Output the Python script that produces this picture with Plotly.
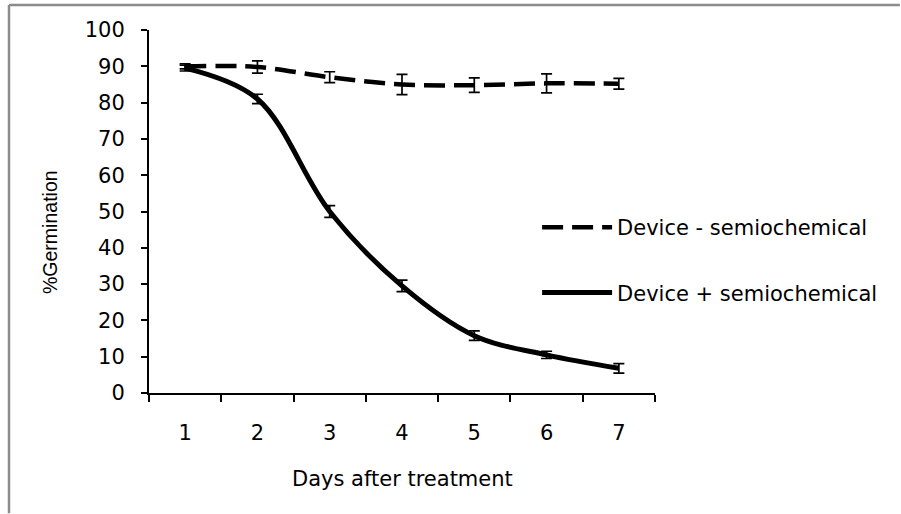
import plotly.graph_objects as go

# Days after treatment (category labels on the x axis)
days = ["1", "2", "3", "4", "5", "6", "7"]

# % germination without semiochemical (dashed) and its error
germ_minus = [90.0, 89.8, 87.0, 85.0, 84.8, 85.3, 85.2]
err_minus = [0.7, 1.7, 1.5, 2.8, 2.0, 2.6, 1.5]

# % germination with semiochemical (solid) and its error
germ_plus = [89.5, 81.0, 50.0, 29.5, 15.8, 10.5, 6.8]
err_plus = [0.8, 1.3, 1.6, 1.6, 1.3, 1.0, 1.3]

y_ticks = list(range(0, 101, 10))

WIDE = "'DejaVu Sans', Arial, sans-serif"
NARROW = "Arial, 'Liberation Sans', sans-serif"
FS = 21

fig = go.Figure()

fig.add_trace(go.Scatter(
    x=days, y=germ_minus, name="Device - semiochemical",
    mode="lines", legendgroup="minus",
    line=dict(color="black", width=4.5, dash="21px,9px", shape="spline", smoothing=1.0),
    error_y=dict(type="data", array=err_minus, visible=True,
                 color="black", thickness=1.7, width=5.5),
))

fig.add_trace(go.Scatter(
    x=days, y=germ_plus, name="Device + semiochemical",
    mode="lines", legendgroup="plus",
    line=dict(color="black", width=5, shape="spline", smoothing=1.0),
    error_y=dict(type="data", array=err_plus, visible=True,
                 color="black", thickness=1.7, width=5.5),
))

fig.update_layout(
    width=901, height=514,
    margin=dict(l=149, r=246, t=30, b=121),
    paper_bgcolor="white", plot_bgcolor="white",
    font=dict(family=WIDE, size=FS, color="black"),
    showlegend=True,
    legend=dict(
        x=0.767, xanchor="left", y=0.512, yanchor="top",
        traceorder="grouped", tracegroupgap=35,
        itemwidth=70, bgcolor="rgba(0,0,0,0)",
        font=dict(family=WIDE, size=FS, color="black"),
    ),
    xaxis=dict(
        type="category", categoryorder="array", categoryarray=days,
        tickson="boundaries", ticks="outside", ticklen=7, tickwidth=2,
        tickcolor="black", showline=True, linecolor="black", linewidth=2,
        showgrid=False, zeroline=False, ticklabelstandoff=20,
        range=[-0.5, 6.5],
    ),
    yaxis=dict(
        range=[0, 100], tickvals=y_ticks, ticks="outside", ticklen=6,
        tickwidth=2, tickcolor="black", showline=True, linecolor="black",
        linewidth=2, showgrid=False, zeroline=False, ticklabelstandoff=12,
    ),
    annotations=[
        dict(text="Days after treatment", xref="paper", yref="paper",
             x=0.5, y=-0.237, xanchor="center", yanchor="middle",
             showarrow=False, font=dict(family=WIDE, size=FS)),
        dict(text="%Germination", xref="paper", yref="paper",
             x=-0.1957, y=0.4435, xanchor="center", yanchor="middle",
             textangle=-90, showarrow=False, font=dict(family=NARROW, size=19.5)),
    ],
    # chart frame: top and left edges, kept inside the canvas
    shapes=[
        dict(type="line", xref="paper", yref="paper",
             x0=-0.2767, x1=1.484, y0=1.0689, y1=1.0689,
             line=dict(color="#8c8c8c", width=2.5), layer="below"),
        dict(type="line", xref="paper", yref="paper",
             x0=-0.2767, x1=-0.2767, y0=-0.331, y1=1.0689,
             line=dict(color="#8c8c8c", width=2.5), layer="below"),
    ],
)

# keep the page free of scrollbars around the fixed-size figure
fig.write_html(
    "out.html",
    post_script="document.documentElement.style.overflow='hidden';"
                "document.body.style.overflow='hidden';"
                "document.body.style.margin='0';",
)
